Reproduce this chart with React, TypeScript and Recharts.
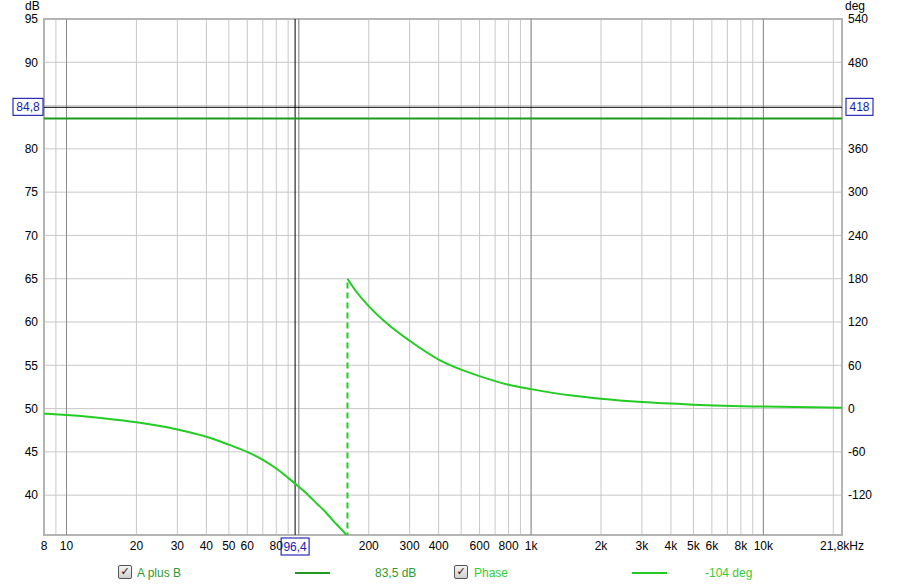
import React from "react";
import {
  CartesianGrid,
  Line,
  LineChart,
  ReferenceArea,
  ReferenceLine,
  XAxis,
  YAxis,
} from "recharts";

// phase trace, below the wrap (deg)
const lowFreqs = [8, 10, 15, 20, 30, 40, 50, 60, 70, 80, 90, 96.4, 110, 119, 130, 141, 150, 158, 162];
const lowPhase = [-7, -9, -14, -19, -29, -39, -50, -60, -71, -83, -96, -104, -120, -131, -143, -156, -165, -173, -179];

// phase trace, after the wrap (deg)
const highFreqs = [162, 175, 200, 250, 300, 400, 500, 600, 800, 1000, 1500, 2000, 3000, 5000, 10000, 21800];
const highPhase = [180, 164, 142, 113, 94, 68, 54, 45, 33, 27, 18, 13.5, 9, 5.5, 2.8, 1.3];

const wrapFreq = 162;
const wrapPhase = [-180, 180];

// A plus B level (dB)
const splFreqs = [8, 21800];
const splValues = [83.5, 83.5];

const cursorFreq = 96.4;
const cursorDb = 84.8;
const cursorDeg = 418;
const legendSpl = "83,5 dB";
const legendPhase = "-104 deg";

const freqTicks = [8, 9, 10, 20, 30, 40, 50, 60, 70, 80, 90, 100, 200, 300, 400, 500, 600, 700, 800, 900, 1000, 2000, 3000, 4000, 5000, 6000, 7000, 8000, 9000, 10000, 20000, 21800];
const freqLabels = ["8", "", "10", "20", "30", "40", "50", "60", "", "80", "", "", "200", "300", "400", "", "600", "", "800", "", "1k", "2k", "3k", "4k", "5k", "6k", "", "8k", "", "10k", "", "21,8kHz"];
const decades = [10, 100, 1000, 10000];

const dbTicks = [40, 45, 50, 55, 60, 65, 70, 75, 80, 85, 90, 95];
const degTicks = [-120, -60, 0, 60, 120, 180, 240, 300, 360, 420, 480, 540];
// labels hidden behind the cursor boxes
const hiddenDb = [85];
const hiddenDeg = [420];

const lowData = lowFreqs.map((f, i) => ({ f, v: lowPhase[i] }));
const highData = highFreqs.map((f, i) => ({ f, v: highPhase[i] }));
const wrapData = wrapPhase.map((v) => ({ f: wrapFreq, v }));
const splData = splFreqs.map((f, i) => ({ f, v: splValues[i] }));

const FONT = "'Liberation Sans', Arial, sans-serif";
const tickStyle = { fontSize: 12, fill: "#000", fontFamily: FONT };

function CursorBox({ x, y, w, text }: { x: number; y: number; w: number; text: string }) {
  return (
    <g>
      <rect x={x} y={y} width={w} height={17} fill="#fff" stroke="#0000a8" strokeWidth={1} />
      <text x={x + w / 2} y={y + 13} textAnchor="middle" fontSize={12} fontFamily={FONT} fill="#1a1ab0">
        {text}
      </text>
    </g>
  );
}

const dbLabel = (props: any) => {
  const vb = props.viewBox;
  return (
    <g>
      <CursorBox x={vb.x - 31} y={vb.y - 9} w={30} text={String(cursorDb).replace(".", ",")} />
      <CursorBox x={vb.x + vb.width + 4} y={vb.y - 9} w={27} text={String(cursorDeg)} />
    </g>
  );
};

const freqLabel = (props: any) => {
  const vb = props.viewBox;
  return <CursorBox x={vb.x - 14} y={vb.y + vb.height + 3} w={28} text={String(cursorFreq).replace(".", ",")} />;
};

function Check({ left }: { left: number }) {
  return (
    <div
      style={{
        position: "absolute",
        left,
        top: 565,
        width: 12,
        height: 12,
        border: "1px solid #555",
        borderRadius: 2,
        background: "linear-gradient(#f4f4f4, #cfcfcf)",
        fontSize: 11,
        fontWeight: "bold",
        lineHeight: "12px",
        textAlign: "center",
        color: "#111",
        fontFamily: "'DejaVu Sans', sans-serif",
      }}
    >
      ✓
    </div>
  );
}

export default function App() {
  const text = (left: number, top: number, s: string, color: string) => (
    <div style={{ position: "absolute", left, top, fontSize: 12, lineHeight: "12px", color, fontFamily: FONT, whiteSpace: "nowrap" }}>{s}</div>
  );
  return (
    <div style={{ position: "absolute", left: 0, top: 0, width: 900, height: 587, background: "#fff" }}>
      <LineChart width={900} height={587} margin={{ top: 19, right: 0, bottom: 0, left: 0 }}>
        <CartesianGrid yAxisId="db" stroke="#c8c8c8" strokeDasharray="" />
        <XAxis
          dataKey="f"
          type="number"
          scale="log"
          domain={[8, 21800]}
          allowDataOverflow
          ticks={freqTicks}
          interval={0}
          tickFormatter={(v: number) => freqLabels[freqTicks.indexOf(v)] ?? ""}
          axisLine={false}
          tickLine={false}
          tickSize={4}
          height={52}
          tick={tickStyle}
        />
        <YAxis
          yAxisId="db"
          type="number"
          domain={[35.4, 95]}
          allowDataOverflow
          ticks={dbTicks}
          interval={0}
          tickFormatter={(v: number) => (hiddenDb.includes(v) ? "" : String(v))}
          axisLine={false}
          tickLine={false}
          tickSize={4}
          width={44}
          tick={tickStyle}
        />
        <YAxis
          yAxisId="deg"
          orientation="right"
          type="number"
          domain={[-175.2, 540]}
          allowDataOverflow
          ticks={degTicks}
          interval={0}
          tickFormatter={(v: number) => (hiddenDeg.includes(v) ? "" : String(v))}
          axisLine={false}
          tickLine={false}
          tickSize={4}
          width={58}
          tick={{ ...tickStyle, textAnchor: "start" }}
        />
        {decades.map((d) => (
          <ReferenceLine key={d} x={d} yAxisId="db" stroke="#8c8c8c" />
        ))}
        <ReferenceArea x1={8} x2={21800} y1={35.4} y2={95} yAxisId="db" fill="none" stroke="#b4b4b4" strokeWidth={2} />
        <ReferenceLine y={cursorDb} yAxisId="db" stroke="#000" label={dbLabel} />
        <ReferenceLine x={cursorFreq} yAxisId="db" stroke="#000" label={freqLabel} />
        <Line yAxisId="db" data={splData} dataKey="v" stroke="#1f9a1f" strokeWidth={2} dot={false} isAnimationActive={false} />
        <Line yAxisId="deg" data={lowData} dataKey="v" type="monotone" stroke="#22cc22" strokeWidth={2} dot={false} isAnimationActive={false} />
        <Line yAxisId="deg" data={highData} dataKey="v" type="monotone" stroke="#22cc22" strokeWidth={2} dot={false} isAnimationActive={false} />
        <Line yAxisId="deg" data={wrapData} dataKey="v" stroke="#22cc22" strokeWidth={2} strokeDasharray="6 4" dot={false} isAnimationActive={false} />
      </LineChart>
      {text(25, 0, "dB", "#000")}
      {text(845, 0, "deg", "#000")}
      <Check left={118} />
      {text(137, 567, "A plus B", "#2f9a2f")}
      <div style={{ position: "absolute", left: 295, top: 572, width: 35, height: 2, background: "#1f9a1f" }} />
      {text(375, 567, legendSpl, "#2f9a2f")}
      <Check left={454} />
      {text(474, 567, "Phase", "#33cc33")}
      <div style={{ position: "absolute", left: 632, top: 572, width: 35, height: 2, background: "#22cc22" }} />
      {text(705, 567, legendPhase, "#33cc33")}
    </div>
  );
}
